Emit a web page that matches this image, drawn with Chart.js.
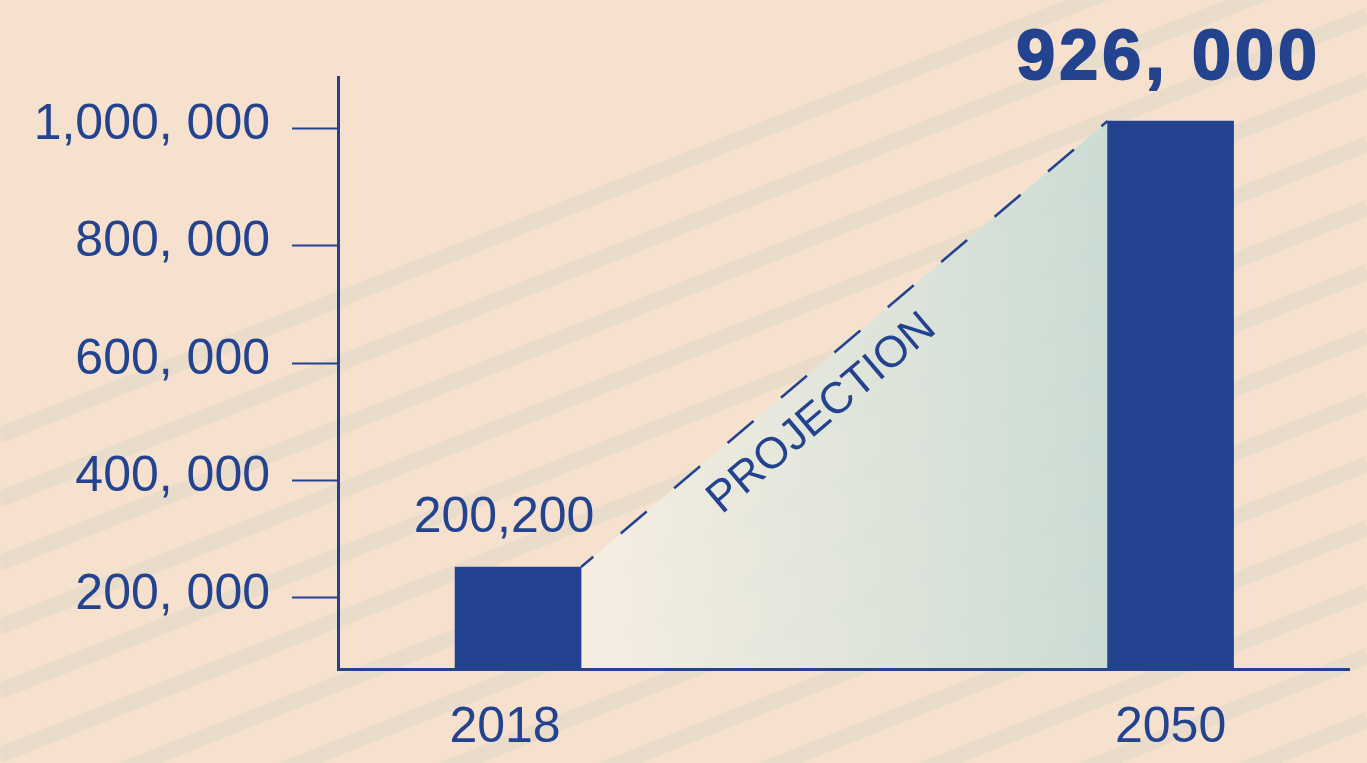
<!DOCTYPE html>
<html>
<head>
<meta charset="utf-8">
<script src="https://cdn.jsdelivr.net/npm/chart.js@4"></script>
<style>
  body { margin: 0; background: #f5e1ce; }
  #wrap { width: 1367px; height: 763px; }
</style>
</head>
<body>
<div id="wrap"><canvas id="projChart" width="1367" height="763"></canvas></div>
<script>
const years = [2018, 2050];
const barValues = [252600, 1012400];
const barLabels = ["200,200", "926, 000"];
const yTickValues = [200000, 400000, 600000, 800000, 1000000];
const yTickLabels = ["200, 000", "400, 000", "600, 000", "800, 000", "1,000, 000"];
const projectionText = "PROJECTION";

const BLUE = "#24438f";
const FONT = "'Liberation Sans', Arial, sans-serif";
// the year labels in the original sit a little off the bar centres
const xLabelShift = [-0.64, 0];

// background + faint diagonal stripes
const bgPlugin = {
  id: "bg",
  beforeDraw(chart) {
    const ctx = chart.ctx;
    ctx.save();
    ctx.fillStyle = "#f5e1ce";
    ctx.fillRect(0, 0, chart.width, chart.height);
    ctx.strokeStyle = "#eadccb";
    ctx.lineWidth = 16;
    for (let b = 435; b < 1400; b += 64) {
      ctx.beginPath();
      ctx.moveTo(0, b);
      ctx.lineTo(chart.width, b - 0.4 * chart.width);
      ctx.stroke();
    }
    ctx.restore();
  }
};

// gradient wedge, dashed line and PROJECTION text between the bars
const projPlugin = {
  id: "proj",
  beforeDatasetsDraw(chart) {
    const ctx = chart.ctx;
    const bars = chart.getDatasetMeta(0).data;
    const x1 = bars[0].x + bars[0].width / 2, y1 = bars[0].y;
    const x2 = bars[1].x - bars[1].width / 2, y2 = bars[1].y;
    const base = chart.chartArea.bottom - 1;
    ctx.save();
    const g = ctx.createLinearGradient(x1, 0, x2, 0);
    g.addColorStop(0, "rgba(247,239,228,0.92)");
    g.addColorStop(1, "rgba(200,220,213,0.92)");
    ctx.fillStyle = g;
    ctx.beginPath();
    ctx.moveTo(x1, y1);
    ctx.lineTo(x2, y2);
    ctx.lineTo(x2, base);
    ctx.lineTo(x1, base);
    ctx.closePath();
    ctx.fill();

    ctx.strokeStyle = BLUE;
    ctx.lineWidth = 2.5;
    ctx.setLineDash([34, 36]);
    ctx.lineDashOffset = 18;
    ctx.beginPath();
    ctx.moveTo(x1, y1);
    ctx.lineTo(x2, y2);
    ctx.stroke();
    ctx.setLineDash([]);

    const ang = Math.atan2(y2 - y1, x2 - x1);
    const t = 0.41;
    const nx = -Math.sin(ang), ny = Math.cos(ang);
    const cx = x1 + (x2 - x1) * t + nx * 51;
    const cy = y1 + (y2 - y1) * t + ny * 51;
    ctx.translate(cx, cy);
    ctx.rotate(ang);
    ctx.fillStyle = BLUE;
    ctx.font = "44px " + FONT;
    ctx.textAlign = "center";
    ctx.textBaseline = "alphabetic";
    ctx.fillText(projectionText, 0, 0);
    ctx.restore();
  },
  afterDatasetsDraw(chart) {
    const ctx = chart.ctx;
    const bars = chart.getDatasetMeta(0).data;
    ctx.save();
    ctx.fillStyle = BLUE;
    ctx.textAlign = "center";
    ctx.textBaseline = "alphabetic";
    ctx.font = "50px " + FONT;
    ctx.fillText(barLabels[0], bars[0].x - 14, bars[0].y - 35);
    ctx.font = "bold 70px " + FONT;
    ctx.letterSpacing = "4px";
    ctx.strokeStyle = BLUE;
    ctx.lineWidth = 2;
    ctx.lineJoin = "round";
    ctx.fillText(barLabels[1], bars[1].x - 2, bars[1].y - 42);
    ctx.strokeText(barLabels[1], bars[1].x - 2, bars[1].y - 42);
    ctx.restore();
  }
};

new Chart(document.getElementById("projChart"), {
  type: "bar",
  data: {
    datasets: [{
      data: years.map((y, i) => ({ x: y, y: barValues[i] })),
      backgroundColor: "#234391",
      barThickness: 126
    }]
  },
  options: {
    responsive: false,
    animation: false,
    layout: { padding: { top: 77, right: 18, left: 0, bottom: 0 } },
    plugins: { legend: { display: false }, tooltip: { enabled: false } },
    scales: {
      x: {
        type: "linear",
        offset: false,
        min: 2009.17,
        max: 2058.75,
        afterBuildTicks: s => { s.ticks = years.map((v, i) => ({ value: v + xLabelShift[i] })); },
        afterFit: s => { s.height = 94; },
        ticks: {
          callback: (v, i) => String(years[i]),
          color: BLUE,
          font: { size: 50, family: FONT },
          padding: 29,
          maxRotation: 0
        },
        grid: { drawOnChartArea: false, drawTicks: false },
        border: { color: BLUE, width: 3 }
      },
      y: {
        min: 78900,
        max: 1087400,
        afterBuildTicks: s => { s.ticks = yTickValues.map(v => ({ value: v })); },
        afterFit: s => { s.width = 338; },
        ticks: {
          // an empty second line lifts each label a few px above its tick mark
          callback: (v, i) => [yTickLabels[i], ""],
          color: BLUE,
          font: { size: 50, family: FONT, lineHeight: 0.12 },
          padding: 22
        },
        grid: { drawOnChartArea: false, drawTicks: true, tickLength: 46, tickColor: BLUE, tickWidth: 2 },
        border: { color: BLUE, width: 3 }
      }
    }
  },
  plugins: [bgPlugin, projPlugin]
});
</script>
</body>
</html>
